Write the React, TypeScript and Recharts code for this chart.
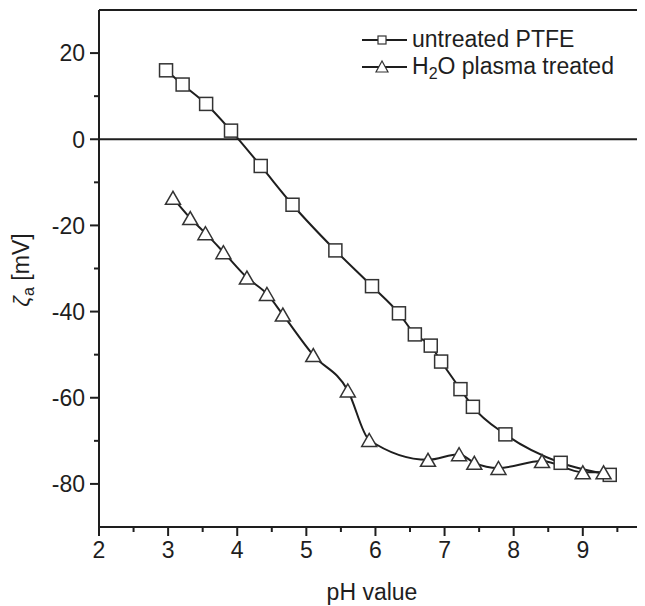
import React from 'react';
import { LineChart, Line, XAxis, YAxis, ReferenceLine, Legend } from 'recharts';

// ---- data ----
const untreatedPH = [2.97, 3.21, 3.55, 3.91, 4.34, 4.80, 5.42, 5.95, 6.34, 6.57, 6.80, 6.95, 7.23, 7.41, 7.88, 8.68, 9.39];
const untreatedZeta = [16.0, 12.7, 8.2, 2.0, -6.2, -15.2, -25.8, -34.1, -40.4, -45.3, -47.9, -51.6, -58.0, -62.1, -68.5, -75.1, -77.9];

const plasmaPH = [3.07, 3.32, 3.54, 3.80, 4.14, 4.43, 4.66, 5.10, 5.60, 5.91, 6.76, 7.21, 7.43, 7.78, 8.41, 9.00, 9.30];
const plasmaZeta = [-13.6, -18.3, -21.8, -26.2, -32.1, -35.9, -40.7, -50.1, -58.3, -69.8, -74.4, -73.1, -75.1, -76.3, -74.7, -77.3, -77.3];

const xMajorTicks = [2, 3, 4, 5, 6, 7, 8, 9];
const xMinorTicks = [2.5, 3.5, 4.5, 5.5, 6.5, 7.5, 8.5, 9.5];
const yMajorTicks = [-80, -60, -40, -20, 0, 20];
const yMinorTicks = [-70, -50, -30, -10, 10];

const seriesNames = ['untreated PTFE', 'H2O plasma treated'];

const untreatedData = untreatedPH.map((ph, i) => ({ ph, zeta: untreatedZeta[i] }));
const plasmaData = plasmaPH.map((ph, i) => ({ ph, zeta: plasmaZeta[i] }));

const FONT = '"Liberation Sans", Arial, Helvetica, sans-serif';
const INK = '#1e1e1e';

const SquareDot = (props: any) => {
  const { cx, cy, index } = props;
  if (cx == null || cy == null) return <g key={`s${index}`} />;
  return (
    <rect key={`s${index}`} x={cx - 6.5} y={cy - 6.5} width={13} height={13}
      fill="#fff" stroke="#333" strokeWidth={1.5} />
  );
};

const TriangleDot = (props: any) => {
  const { cx, cy, index } = props;
  if (cx == null || cy == null) return <g key={`t${index}`} />;
  return (
    <polygon key={`t${index}`}
      points={`${cx},${cy - 6.5} ${cx - 7.5},${cy + 6.5} ${cx + 7.5},${cy + 6.5}`}
      fill="#fff" stroke="#333" strokeWidth={1.5} strokeLinejoin="miter" />
  );
};

const YTick = (props: any) => {
  const { x, y, payload } = props;
  const v = payload.value;
  const major = yMajorTicks.includes(v);
  return (
    <g>
      <line x1={x} x2={x - (major ? 9 : 5)} y1={y} y2={y} stroke={INK} strokeWidth={2} />
      {major && (
        <text x={x - 14} y={y} dy="0.36em" textAnchor="end" fontSize={23} fill={INK} fontFamily={FONT}>
          {String(v)}
        </text>
      )}
    </g>
  );
};

const XTick = (props: any) => {
  const { x, y, payload } = props;
  const v = payload.value;
  const major = xMajorTicks.includes(v);
  return (
    <g>
      <line x1={x} x2={x} y1={y} y2={y + (major ? 9 : 5)} stroke={INK} strokeWidth={2} />
      {major && (
        <text x={x} y={y + 31} textAnchor="middle" fontSize={23} fill={INK} fontFamily={FONT}>
          {String(v)}
        </text>
      )}
    </g>
  );
};

const renderLegend = () => {
  const rows = [20, 47];
  return (
    <svg width={300} height={64} style={{ display: 'block', overflow: 'visible' }}>
      {rows.map((ry, i) => (
        <g key={i}>
          <line x1={12} x2={57} y1={ry} y2={ry} stroke={INK} strokeWidth={2} />
          {i === 0 ? (
            <rect x={28} y={ry - 4} width={8} height={8} fill="#fff" stroke="#333" strokeWidth={1.2} />
          ) : (
            <polygon points={`32,${ry - 6} 26,${ry + 5} 38,${ry + 5}`} fill="#fff" stroke="#333" strokeWidth={1.2} />
          )}
          {i === 0 ? (
            <text x={62} y={ry + 7} fontSize={23} fill={INK} fontFamily={FONT}>{seriesNames[0]}</text>
          ) : (
            <text x={62} y={ry + 7} fontSize={23} fill={INK} fontFamily={FONT}>
              H<tspan fontSize={16} dy={5}>2</tspan><tspan dy={-5}>O plasma treated</tspan>
            </text>
          )}
        </g>
      ))}
    </svg>
  );
};

export default function App() {
  return (
    <div style={{ width: 637, height: 598 }}>
      <LineChart width={637} height={598} margin={{ top: 2, right: 0, bottom: 0, left: 0 }}>
        <XAxis
          type="number"
          dataKey="ph"
          domain={[2, 9.9]}
          allowDataOverflow
          ticks={[...xMajorTicks, ...xMinorTicks].sort((a, b) => a - b)}
          interval={0}
          tick={<XTick />}
          tickLine={false}
          tickSize={0}
          tickMargin={0}
          axisLine={{ stroke: INK, strokeWidth: 2 }}
          height={79}
          label={{
            content: (p: any) => {
              const vb = p.viewBox || { x: 91, y: 518.7, width: 546 };
              return (
                <text x={vb.x + vb.width / 2} y={vb.y + 73} textAnchor="middle" fontSize={23} fill={INK} fontFamily={FONT}>
                  pH value
                </text>
              );
            },
          }}
        />
        <YAxis
          type="number"
          domain={[-90, 30]}
          allowDataOverflow
          ticks={[...yMajorTicks, ...yMinorTicks].sort((a, b) => a - b)}
          interval={0}
          tick={<YTick />}
          tickLine={false}
          tickSize={0}
          tickMargin={0}
          axisLine={{ stroke: INK, strokeWidth: 2 }}
          width={91}
          label={{
            content: () => (
              <text x={21} y={262} transform="rotate(-90, 21, 262)" textAnchor="middle" fontSize={23} fill={INK} fontFamily={FONT}>
                <tspan fontStyle="italic">ζ</tspan>
                <tspan fontSize={16} dy={5}>a</tspan>
                <tspan dy={-5}> [mV]</tspan>
              </text>
            ),
          }}
        />
        <ReferenceLine y={0} stroke={INK} strokeWidth={2} />
        <ReferenceLine y={30} stroke={INK} strokeWidth={2} />
        <Legend
          content={renderLegend}
          layout="horizontal"
          verticalAlign="middle"
          align="center"
          wrapperStyle={{ position: 'absolute', left: 342, top: 12, width: 300, height: 64 }}
        />
        <Line
          name={seriesNames[0]}
          data={untreatedData}
          dataKey="zeta"
          type="monotone"
          stroke={INK}
          strokeWidth={2}
          dot={SquareDot}
          activeDot={false}
          isAnimationActive={false}
        />
        <Line
          name={seriesNames[1]}
          data={plasmaData}
          dataKey="zeta"
          type="monotone"
          stroke={INK}
          strokeWidth={2}
          dot={TriangleDot}
          activeDot={false}
          isAnimationActive={false}
        />
      </LineChart>
    </div>
  );
}
